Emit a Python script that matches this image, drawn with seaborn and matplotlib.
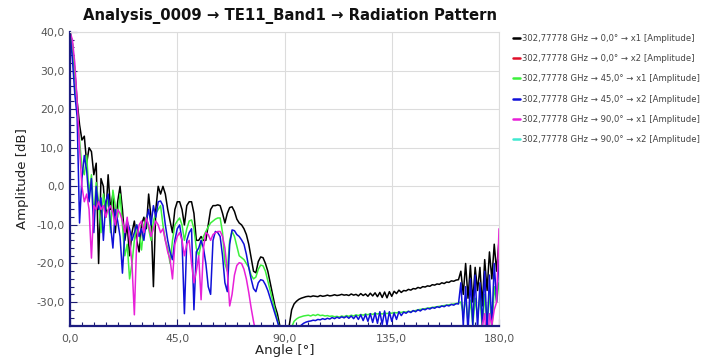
import numpy as np
import pandas as pd
import matplotlib
matplotlib.use("Agg")
import matplotlib.pyplot as plt
from matplotlib.lines import Line2D
from matplotlib.ticker import FuncFormatter, MultipleLocator
import seaborn as sns

# ---------------- data ----------------
series_labels = [
    "302,77778 GHz \u2192 0,0\u00b0 \u2192 x1 [Amplitude]",
    "302,77778 GHz \u2192 0,0\u00b0 \u2192 x2 [Amplitude]",
    "302,77778 GHz \u2192 45,0\u00b0 \u2192 x1 [Amplitude]",
    "302,77778 GHz \u2192 45,0\u00b0 \u2192 x2 [Amplitude]",
    "302,77778 GHz \u2192 90,0\u00b0 \u2192 x1 [Amplitude]",
    "302,77778 GHz \u2192 90,0\u00b0 \u2192 x2 [Amplitude]",
]
series_colors = ["#000000", "#e0102a", "#3cf03c", "#1010d8", "#e820d8", "#40e8d0"]

angles_full = list(range(0, 181))

black_db = [
    40, 37, 30, 22, 16, 12, 13, 6, 10, 9,
    3, 6, -20, 2, 0, -8, 3, -6, -2, -12,
    -4, 0, -6, -14, -10, -18, -12, -9, -14, -17,
    -10, -8, -11, -2, -8, -26, -6, 0, -2, 0,
    -2, -6, -9, -12, -6, -4, -4, -6, -10, -5,
    -4, -4, -7, -14, -14, -13, -14, -14, -10, -6,
    -5, -5, -4.8, -5, -7, -9.5, -7, -5.5, -5.3, -6.5,
    -8.5, -9.5, -10, -11, -12.5, -15, -18.5, -22, -22.4, -19.5,
    -18.3, -18.5, -20, -22, -25, -28, -31, -33, -36, -45,
    -45, -45, -36, -32, -30.5, -29.8, -29.3, -29, -28.8, -28.6,
    -28.5, -28.6, -28.4, -28.5, -28.6, -28.3, -28.5, -28.4, -28.2, -28.4,
    -28.3, -28.1, -28.3, -28.2, -28.0, -28.2, -28.1, -28.3, -27.9, -28.2,
    -28.0, -28.4, -27.8, -28.3, -27.9, -28.5, -27.7, -28.4, -27.6, -28.6,
    -27.5, -28.8, -27.4, -28.9, -27.3, -28.5, -27.2, -27.8, -26.9, -27.5,
    -27.0, -27.1, -26.7, -26.9, -26.5, -26.6, -26.2, -26.4, -26.0, -26.1,
    -25.8, -25.9, -25.5, -25.6, -25.3, -25.4, -25.0, -25.2, -24.8, -24.9,
    -24.5, -24.6, -24.3, -24.2, -22, -28, -20, -29, -20.5, -30,
    -21, -27, -21, -31, -19, -27, -17, -24, -15, -22,
    -14,
]

red_angles = []
red_db = []

green_db = [
    40, 37, 29, 20, 12, 5, 3, 8, -2, 3,
    -8, 1, -4, -12, -2, -6, -3, -12, -1, -5,
    -8, -2, -10, -18, -15, -24, -20, -14, -10, -12,
    -16.5, -10, -8, -11, -14, -9, -7, -6, -5, -10,
    -14, -16, -20, -14, -10, -9, -8.2, -10, -14, -11,
    -9, -8.7, -11, -16, -18, -15, -13, -11.7, -10.5, -9.5,
    -9, -8.5, -8.2, -8.2, -12, -20, -22, -14, -11.7, -13,
    -15.5, -18, -18.5, -19, -20, -21, -23, -24, -23.5, -21.5,
    -20.4, -20.6, -22, -24.5, -27, -29.5, -32, -34.5, -37, -45,
    -45, -45, -45, -36.5, -35, -34.4, -34.0, -33.8, -33.6, -33.5,
    -33.4, -33.6, -33.3, -33.5, -33.2, -33.5, -33.4, -33.6, -33.5, -33.7,
    -33.6, -33.8, -33.7, -33.9, -33.6, -33.8, -33.5, -33.7, -33.4, -33.6,
    -33.3, -33.5, -33.2, -33.4, -33.1, -33.3, -33.0, -33.2, -32.9, -33.1,
    -32.9, -33.1, -32.8, -33.0, -32.8, -32.9, -32.7, -32.8, -32.6, -32.7,
    -32.5, -32.6, -32.4, -32.5, -32.3, -32.2, -32.0, -31.9, -31.8, -31.7,
    -31.6, -31.5, -31.4, -31.3, -31.2, -31.1, -31.0, -30.9, -30.8, -30.7,
    -30.6, -30.5, -30.4, -30.2, -30.0, -33, -29, -35, -29.5, -36,
    -29, -34, -28.5, -37, -28, -36, -27, -38, -26, -30,
    -25,
]

blue_db = [
    40, 33, 24, 18, -9.5, 2, 8, 4, -4, 2,
    -12, 0, -6, -3, -14, -4, -2, -10, -16, -6,
    -9, -13, -22.5, -12, -9, -11, -14, -12, -10, -13,
    -11, -14, -9, -6, -10, -5, -8, -4, -3.8, -5,
    -10, -14, -17, -19, -14, -11, -10, -14, -33, -14,
    -12, -11, -32, -17, -16, -14, -16, -20, -26, -28,
    -14, -11.7, -12, -13, -18, -25, -27.3, -15, -11.3, -11.5,
    -12.5, -13, -13.9, -15, -17.6, -21, -24, -26.5, -27.3, -25,
    -24.2, -24.4, -25.5, -27, -29, -31, -33, -35, -37, -45,
    -45, -45, -45, -45, -45, -45, -36.5, -36, -35.5, -35.2,
    -35.0, -34.9, -34.7, -34.8, -34.5, -34.6, -34.3, -34.5, -34.2, -34.4,
    -34.0, -34.3, -33.9, -34.2, -33.8, -34.1, -33.7, -34.2, -33.6, -34.3,
    -33.5, -34.5, -33.3, -34.8, -33.2, -35.0, -33.0, -35.3, -32.8, -35.5,
    -32.5, -35.8, -32.3, -36.0, -32.5, -35.0, -32.8, -34.5, -32.5, -33.5,
    -32.6, -32.9, -32.4, -32.7, -32.2, -32.5, -32.0, -32.3, -31.8, -32.0,
    -31.6, -31.8, -31.4, -31.6, -31.2, -31.4, -31.0, -31.2, -30.8, -31.0,
    -30.6, -30.8, -30.4, -30.5, -25, -36, -26, -38, -24, -36,
    -23, -37, -25, -36, -22, -38, -23, -36, -20, -30,
    -19,
]

magenta_angles = list(range(0, 80)) + list(range(172, 181))
magenta_db = [
    40, 38, 32, 22, 10, 0, -4, -2, -6, -18.6,
    -5, -6, -4, -6, -5, -8, -6, -5, -7, -10,
    -6, -7, -9, -12, -8, -14, -20, -33.3, -14, -10,
    -9, -12, -8.2, -10, -13, -11, -9, -10, -12, -11,
    -14, -17, -19, -24, -15, -13, -12, -14, -18, -15,
    -14, -20, -25, -22, -18, -29.4, -16, -12, -12.5, -14,
    -12.5, -12, -11.7, -11.7, -13, -16, -22, -31, -28, -23,
    -20.5, -19.8, -20, -21.5, -24, -27.5, -31.5, -35, -38, -45,
    -45, -36, -33, -45, -33, -36, -32, -30, -11,
]

cyan_angles = []
cyan_db = []

x_major = [0, 45, 90, 135, 180]
y_major = [-30, -20, -10, 0, 10, 20, 30, 40]

# ---------------- build long-form table ----------------
frames = []
for lab, ang, val in [
    (series_labels[0], angles_full, black_db),
    (series_labels[1], red_angles, red_db),
    (series_labels[2], angles_full, green_db),
    (series_labels[3], angles_full, blue_db),
    (series_labels[4], magenta_angles, magenta_db),
    (series_labels[5], cyan_angles, cyan_db),
]:
    frames.append(pd.DataFrame({"angle": ang, "amp": val, "series": lab}))
df = pd.concat(frames, ignore_index=True)
df["angle"] = df["angle"].astype(float)
df["amp"] = df["amp"].astype(float)

# ---------------- plot ----------------
sns.set_theme(style="white")
plt.rcParams["font.family"] = ["DejaVu Sans"]

fig = plt.figure(figsize=(7.15, 3.6), dpi=100)
ax = fig.add_axes([70 / 715, 34 / 360, 429 / 715, 294 / 360])

palette = dict(zip(series_labels, series_colors))
present = [s for s in series_labels if (df["series"] == s).any()]
sns.lineplot(data=df, x="angle", y="amp", hue="series", hue_order=present,
             palette=palette, estimator=None, sort=False, legend=False,
             linewidth=1.1, ax=ax)

ax.set_xlim(0, 180)
ax.set_ylim(-36.2, 40)
ax.set_xticks(x_major)
ax.set_yticks(y_major)
ax.xaxis.set_minor_locator(MultipleLocator(5))
ax.yaxis.set_minor_locator(MultipleLocator(2))
fmt = FuncFormatter(lambda v, p: f"{v:.1f}".replace(".", ","))
ax.xaxis.set_major_formatter(fmt)
ax.yaxis.set_major_formatter(fmt)
ax.grid(True, which="major", color="#dcdcdc", linewidth=0.8)
ax.set_axisbelow(True)

ax.tick_params(axis="both", which="major", direction="in", length=5, width=0.8,
               color="#1c1c70", labelsize=7.8, labelcolor="#555555",
               left=True, bottom=True)
ax.tick_params(axis="x", which="major", pad=6)
ax.tick_params(axis="y", which="major", pad=4)
ax.tick_params(axis="both", which="minor", direction="in", length=3, width=0.8,
               color="#1c1c70", left=True, bottom=True)

for side in ["left", "bottom"]:
    ax.spines[side].set_color("#1c1c80")
    ax.spines[side].set_linewidth(1.6)
for side in ["top", "right"]:
    ax.spines[side].set_color("#dcdcdc")
    ax.spines[side].set_linewidth(0.8)

ax.set_xlabel("Angle [\u00b0]", fontsize=9.5, color="#222222", labelpad=0)
ax.set_ylabel("Amplitude [dB]", fontsize=9.5, color="#222222", labelpad=5)

fig.text(290 / 715, 1 - 16 / 360,
         "Analysis_0009 \u2192 TE11_Band1 \u2192 Radiation Pattern",
         ha="center", va="center", fontsize=10.7, fontweight="bold", color="#111111")

handles = [Line2D([0], [0], color=c, linewidth=1.8) for c in series_colors]
leg = fig.legend(handles, series_labels, loc="upper left",
                 bbox_to_anchor=(513 / 715, 1 - 34 / 360), frameon=False,
                 fontsize=6.1, handlelength=0.8, handletextpad=0.25,
                 labelspacing=1.32, borderaxespad=0, borderpad=0)
for t in leg.get_texts():
    t.set_color("#444444")

fig.savefig("out.png", dpi=100)
